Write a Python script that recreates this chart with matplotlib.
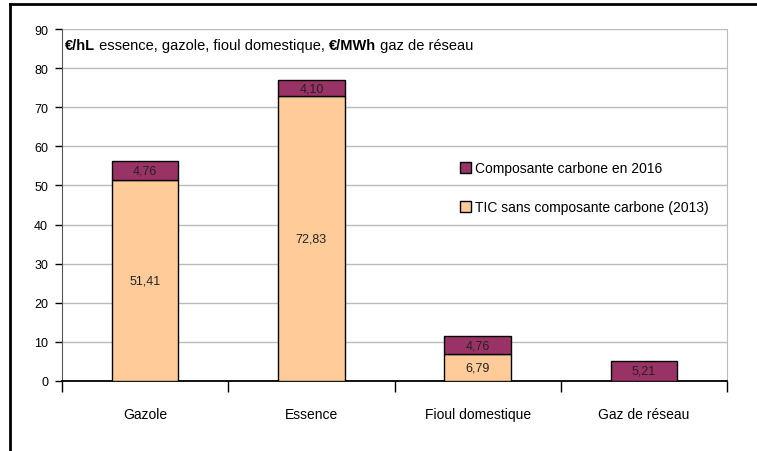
import matplotlib.pyplot as plt
import numpy as np

plt.rcParams['font.family'] = ['Liberation Sans', 'DejaVu Sans']

categories = ['Gazole', 'Essence', 'Fioul domestique', 'Gaz de réseau']
tic_2013 = [51.41, 72.83, 6.79, 0]
carbone_2016 = [4.76, 4.10, 4.76, 5.21]

col_tic = '#FFCC99'
col_carb = '#993366'

fig = plt.figure(figsize=(7.57, 4.52), dpi=100)
ax = fig.add_axes([0.0819, 0.1549, 0.8785, 0.7787])

x = np.arange(len(categories))
w = 0.4
b1 = ax.bar(x, tic_2013, w, color=col_tic, edgecolor='black', linewidth=1,
            label='TIC sans composante carbone (2013)', zorder=3)
b2 = ax.bar(x, carbone_2016, w, bottom=tic_2013, color=col_carb, edgecolor='black',
            linewidth=1, label='Composante carbone en 2016', zorder=3)

for i in range(len(categories)):
    if tic_2013[i] > 0:
        ax.text(x[i], tic_2013[i] / 2, f'{tic_2013[i]:.2f}'.replace('.', ','),
                ha='center', va='center', fontsize=9, color='#222222', zorder=4)
    ax.text(x[i], tic_2013[i] + carbone_2016[i] / 2, f'{carbone_2016[i]:.2f}'.replace('.', ','),
            ha='center', va='center', fontsize=9, color='#222222', zorder=4)

ax.set_xlim(-0.5, len(categories) - 0.5)
ax.set_ylim(0, 90)
ax.set_yticks(range(0, 91, 10))
ax.set_xticks(np.arange(-0.5, len(categories), 1.0))
ax.set_xticklabels([])
ax.tick_params(axis='x', length=8, width=1, color='black', direction='out')
ax.tick_params(axis='y', length=5, width=1, color='black', labelsize=9, pad=5)
for i, c in enumerate(categories):
    ax.text(x[i], -0.095, c, transform=ax.get_xaxis_transform(), ha='center', va='center',
            fontsize=10)

ax.yaxis.grid(True, color='#bbbbbb', linewidth=1, zorder=0)
ax.spines['top'].set_visible(False)
ax.spines['right'].set_color('#bbbbbb')
ax.spines['left'].set_color('#555555')
ax.spines['bottom'].set_color('black')
ax.spines['bottom'].set_linewidth(1.3)

handles = [b2, b1]
leg = ax.legend(handles=handles, labels=[h.get_label() for h in handles],
                loc='upper left', bbox_to_anchor=(0.58, 0.66), frameon=False,
                fontsize=10, handlelength=0.8, handleheight=0.8, handletextpad=0.3,
                labelspacing=1.8)

# title inside plot, mixed bold / normal
t = ax.text(0.004, 0.955, '€/hL', transform=ax.transAxes, fontsize=10.5,
            fontweight='bold', va='center', ha='left')
parts = [(' essence, gazole, fioul domestique, ', 'normal'), ('€/MWh', 'bold'),
         (' gaz de réseau', 'normal')]
for s, fw in parts:
    t = ax.annotate(s, xy=(1, 0), xycoords=t, xytext=(0, 0), textcoords='offset points',
                    fontsize=10.5, fontweight=fw, va='bottom', ha='left')

# outer frame lines
fig.add_artist(plt.Line2D([0.0132, 1], [0.989, 0.989], color='black', linewidth=2,
                          transform=fig.transFigure))
fig.add_artist(plt.Line2D([0.0132, 0.0132], [0, 0.989], color='black', linewidth=2,
                          transform=fig.transFigure))

fig.savefig('out.png', dpi=100)
